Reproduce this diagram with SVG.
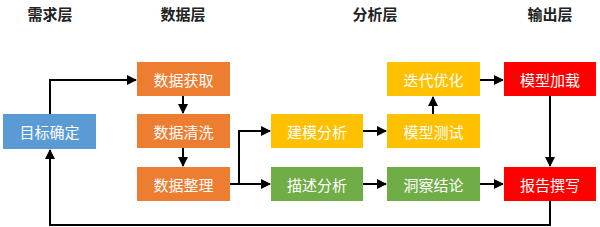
<svg xmlns="http://www.w3.org/2000/svg" width="600" height="227" viewBox="0 0 600 227">
<style>
.t{font-family:"Noto Sans CJK SC","Liberation Sans",sans-serif;font-size:15px;font-weight:bold;fill:#222;text-anchor:middle}
.l{font-family:"Noto Sans CJK SC","Liberation Sans",sans-serif;font-size:15px;fill:#fff;text-anchor:middle;dominant-baseline:central}
.c{fill:none;stroke:#000;stroke-width:2;marker-end:url(#a)}
.c0{fill:none;stroke:#000;stroke-width:2}
</style>
<defs>
<marker id="a" viewBox="0 0 10 10" refX="9" refY="5" markerWidth="5" markerHeight="5" orient="auto" markerUnits="strokeWidth"><path d="M0,0L10,5L0,10z" fill="#000"/></marker>
</defs>
<rect width="600" height="227" fill="#fff"/>
<g id="titles">
<text class="t" x="50" y="20">需求层</text>
<text class="t" x="183" y="20">数据层</text>
<text class="t" x="375" y="20">分析层</text>
<text class="t" x="550" y="20">输出层</text>
</g>
<g id="connectors">
<path class="c" d="M50,114V80H136"/>
<path class="c" d="M183,96V113"/>
<path class="c" d="M183,148V166"/>
<path class="c0" d="M230,184H239"/>
<path class="c" d="M239,184V131H270"/>
<path class="c" d="M239,184H270"/>
<path class="c" d="M363,131H386"/>
<path class="c" d="M363,184H386"/>
<path class="c" d="M433,114V97"/>
<path class="c" d="M480,80H503"/>
<path class="c" d="M550,96V166"/>
<path class="c" d="M480,184H503"/>
<path class="c" d="M550,201V225H50V150"/>
</g>
<g id="n1"><rect x="3" y="114" width="93" height="35" fill="#5B9BD5"/><text class="l" x="49.5" y="131.5">目标确定</text></g>
<g id="n2"><rect x="137" y="62" width="93" height="34" fill="#ED7D31"/><text class="l" x="183.5" y="79">数据获取</text></g>
<g id="n3"><rect x="137" y="114" width="93" height="34" fill="#ED7D31"/><text class="l" x="183.5" y="131">数据清洗</text></g>
<g id="n4"><rect x="137" y="167" width="93" height="34" fill="#ED7D31"/><text class="l" x="183.5" y="184">数据整理</text></g>
<g id="n5"><rect x="271" y="114" width="92" height="34" fill="#FFC000"/><text class="l" x="317" y="131">建模分析</text></g>
<g id="n6"><rect x="271" y="167" width="92" height="34" fill="#70AD47"/><text class="l" x="317" y="184">描述分析</text></g>
<g id="n7"><rect x="387" y="62" width="93" height="34" fill="#FFC000"/><text class="l" x="433.5" y="79">迭代优化</text></g>
<g id="n8"><rect x="387" y="114" width="93" height="34" fill="#FFC000"/><text class="l" x="433.5" y="131">模型测试</text></g>
<g id="n9"><rect x="387" y="167" width="93" height="34" fill="#70AD47"/><text class="l" x="433.5" y="184">洞察结论</text></g>
<g id="n10"><rect x="504" y="62" width="92" height="34" fill="#FF0000"/><text class="l" x="550" y="79">模型加载</text></g>
<g id="n11"><rect x="504" y="167" width="92" height="34" fill="#FF0000"/><text class="l" x="550" y="184">报告撰写</text></g>
</svg>
